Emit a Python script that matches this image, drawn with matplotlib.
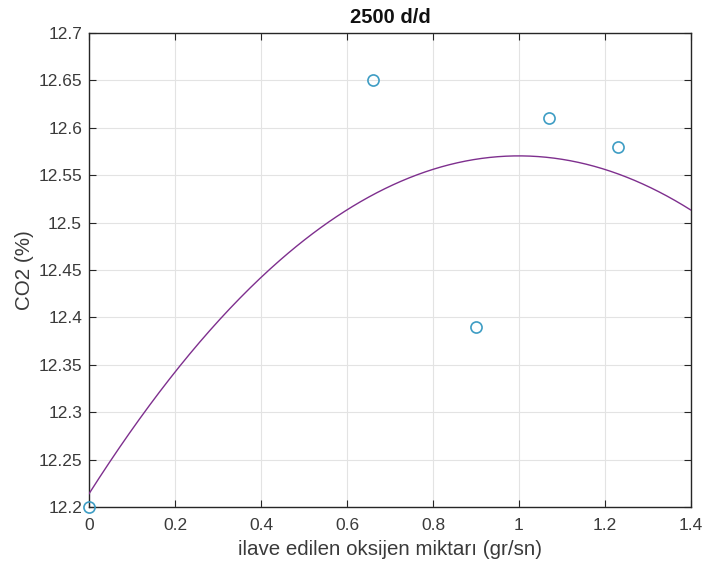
import numpy as np
import matplotlib
matplotlib.use("Agg")
import matplotlib.pyplot as plt

# Data
oxygen = [0.0, 0.66, 0.90, 1.07, 1.23]          # ilave edilen oksijen miktarı (gr/sn)
co2 = [12.20, 12.65, 12.39, 12.61, 12.58]       # CO2 (%)
x_ticks = [0, 0.2, 0.4, 0.6, 0.8, 1.0, 1.2, 1.4]
x_ticklabels = ["0", "0.2", "0.4", "0.6", "0.8", "1", "1.2", "1.4"]
y_ticks = [12.2, 12.25, 12.3, 12.35, 12.4, 12.45, 12.5, 12.55, 12.6, 12.65, 12.7]
y_ticklabels = ["12.2", "12.25", "12.3", "12.35", "12.4", "12.45", "12.5",
                "12.55", "12.6", "12.65", "12.7"]

plt.rcParams['font.family'] = ['Liberation Sans', 'DejaVu Sans']

fig = plt.figure(figsize=(7.04, 5.75), dpi=100)
ax = fig.add_axes([0.1264, 0.1183, 0.8551, 0.8243])

# quadratic fit of the points (as in the reference)
coef = np.polyfit(oxygen, co2, 2)
xf = np.linspace(0, 1.4, 300)
ax.plot(xf, np.polyval(coef, xf), color='#7E2F8E', lw=1.0, zorder=3)

ax.plot(oxygen, co2, linestyle='none', marker='o', markersize=8,
        markerfacecolor='none', markeredgecolor='#3E9DC4', markeredgewidth=1.2,
        clip_on=False, zorder=4)

ax.set_xlim(0, 1.4)
ax.set_ylim(12.2, 12.7)
ax.set_xticks(x_ticks)
ax.set_xticklabels(x_ticklabels)
ax.set_yticks(y_ticks)
ax.set_yticklabels(y_ticklabels)

dark = '#262626'
ax.grid(True, color='#e3e3e3', lw=0.8)
ax.set_axisbelow(True)
for s in ax.spines.values():
    s.set_color(dark)
    s.set_linewidth(1.0)
ax.tick_params(direction='in', length=5, width=0.8, colors=dark,
               labelsize=12.5, top=True, right=True)
ax.tick_params(axis='x', pad=8)
ax.tick_params(axis='y', pad=5)
for lab in ax.get_xticklabels() + ax.get_yticklabels():
    lab.set_color('#3a3a3a')

ax.set_xlabel('ilave edilen oksijen miktarı (gr/sn)', fontsize=14.8, color='#3a3a3a', labelpad=5)
ax.set_ylabel('CO2 (%)', fontsize=14.8, color='#3a3a3a', labelpad=3)
ax.set_title('2500 d/d', fontsize=14.5, fontweight='bold', color='#111111', pad=7)

fig.savefig('out.png', dpi=100)
